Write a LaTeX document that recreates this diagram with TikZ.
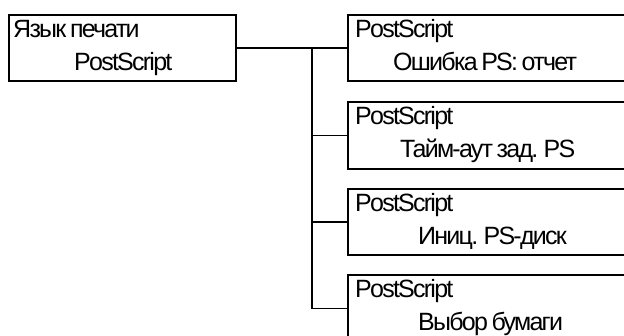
\documentclass[tikz,border=0pt]{standalone}
\usepackage{fontspec}
\setmainfont{Liberation Sans}[LetterSpace=-7,WordSpace=0.7]
\begin{document}
\begin{tikzpicture}[x=1pt,y=-1pt,
  box/.style={draw,line width=1.8pt,rectangle,anchor=north west,inner sep=0pt,outer sep=0pt},
  conn/.style={line width=1.8pt},
  txt/.style={anchor=base west,inner sep=0pt,font=\fontsize{25}{29}\selectfont}]
\useasboundingbox (0,0) rectangle (624,336);
\clip (0,0) rectangle (624,336);
\node[box,minimum width=227pt,minimum height=66pt] (b0) at (9,15) {};
\node[box,minimum width=300pt,minimum height=66pt] (b1) at (348,15) {};
\node[box,minimum width=300pt,minimum height=67pt] (b2) at (348,102) {};
\node[box,minimum width=300pt,minimum height=66pt] (b3) at (348,189) {};
\node[box,minimum width=300pt,minimum height=67pt] (b4) at (348,275) {};
\node[txt] (t0a) at ([shift={(4,22.5)}]b0.north west) {Язык печати};
\node[txt] (t0b) at ([shift={(65,56)}]b0.north west) {PostScript};
\node[txt] (t1a) at ([shift={(7,22.5)}]b1.north west) {PostScript};
\node[txt] (t1b) at ([shift={(45,56)}]b1.north west) {Ошибка PS: отчет};
\node[txt] (t2a) at ([shift={(7,22.5)}]b2.north west) {PostScript};
\node[txt] (t2b) at ([shift={(52,56)}]b2.north west) {Тайм-аут зад. PS};
\node[txt] (t3a) at ([shift={(7,22.5)}]b3.north west) {PostScript};
\node[txt] (t3b) at ([shift={(70,56)}]b3.north west) {Иниц. PS-диск};
\node[txt] (t4a) at ([shift={(7,22.5)}]b4.north west) {PostScript};
\node[txt] (t4b) at ([shift={(70,56)}]b4.north west) {Выбор бумаги};
\coordinate (j) at (312,48);
\draw[conn] (b0.east) -- (b1.west);
\draw[conn] (j) |- (b2.west);
\draw[conn] (j) |- (b3.west);
\draw[conn] (j) |- (b4.west);
\end{tikzpicture}
\end{document}
